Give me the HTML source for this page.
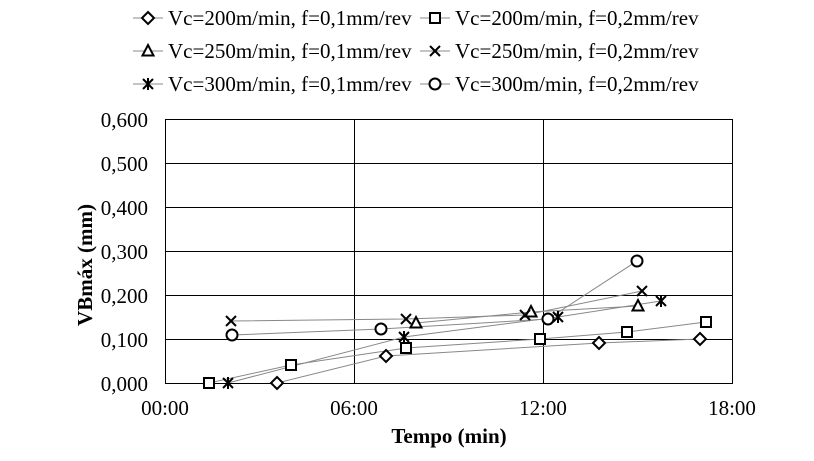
<!DOCTYPE html>
<html><head><meta charset="utf-8"><style>body{margin:0;background:#fff}svg text{font-family:"Liberation Serif",serif;fill:#000}</style></head><body>
<svg width="814" height="456" viewBox="0 0 814 456" xmlns="http://www.w3.org/2000/svg">
<g stroke="#000" stroke-width="1">
<rect x="165.5" y="119.5" width="567" height="264" fill="none"/>
<line x1="165" y1="163.5" x2="732" y2="163.5"/><line x1="165" y1="207.5" x2="732" y2="207.5"/>
<line x1="165" y1="251.5" x2="732" y2="251.5"/><line x1="165" y1="295.5" x2="732" y2="295.5"/>
<line x1="165" y1="339.5" x2="732" y2="339.5"/>
<line x1="354.5" y1="119" x2="354.5" y2="383"/><line x1="543.5" y1="119" x2="543.5" y2="383"/>
</g>
<g font-size="21" text-anchor="end">
<text x="148" y="127">0,600</text><text x="148" y="171">0,500</text><text x="148" y="215">0,400</text>
<text x="148" y="259">0,300</text><text x="148" y="303">0,200</text><text x="148" y="347">0,100</text><text x="148" y="391">0,000</text>
</g>
<g font-size="21" text-anchor="middle">
<text x="165" y="415">00:00</text><text x="354" y="415">06:00</text><text x="543" y="415">12:00</text><text x="732" y="415">18:00</text>
</g>
<text x="449" y="443" font-size="21" font-weight="bold" text-anchor="middle">Tempo (min)</text>
<text transform="translate(92,265) rotate(-90)" font-size="21" font-weight="bold" text-anchor="middle">VBmáx (mm)</text>
<g fill="none" stroke="#888" stroke-width="1">
<polyline points="277,383 386,356 599,343 700,339"/>
<polyline points="209,383 291,365 406,348 540,339 627,332 706,322"/>
<polyline points="416,323 531,312 638,306"/>
<polyline points="231,321 406,319 525,315 642,291"/>
<polyline points="228,383 404,337 558,317 661,301"/>
<polyline points="232,335 381,329 548,319 637,261"/>
</g>
<defs>
<g id="d"><path d="M0,-6 L6,0 L0,6 L-6,0Z" fill="#fff" stroke="#000" stroke-width="2"/></g>
<g id="s"><rect x="-5" y="-5" width="10" height="10" fill="#fff" stroke="#000" stroke-width="2"/></g>
<g id="t"><path d="M0,-6 L5.5,4.5 L-5.5,4.5Z" fill="#fff" stroke="#000" stroke-width="2"/></g>
<g id="x"><path d="M-5,-5 L5,5 M-5,5 L5,-5" stroke="#000" stroke-width="2"/></g>
<g id="a"><path d="M-5,-5 L5,5 M-5,5 L5,-5 M0,-6 L0,6" stroke="#000" stroke-width="2"/></g>
<g id="c"><circle r="5.5" fill="#fff" stroke="#000" stroke-width="2"/></g>
</defs>
<use href="#d" x="277" y="383"/><use href="#d" x="386" y="356"/><use href="#d" x="599" y="343"/><use href="#d" x="700" y="339"/>
<use href="#s" x="209" y="383"/><use href="#s" x="291" y="365"/><use href="#s" x="406" y="348"/><use href="#s" x="540" y="339"/><use href="#s" x="627" y="332"/><use href="#s" x="706" y="322"/>
<use href="#t" x="416" y="323"/><use href="#t" x="531" y="312"/><use href="#t" x="638" y="306"/>
<use href="#x" x="231" y="321"/><use href="#x" x="406" y="319"/><use href="#x" x="525" y="315"/><use href="#x" x="642" y="291"/>
<use href="#a" x="228" y="383"/><use href="#a" x="404" y="337"/><use href="#a" x="558" y="317"/><use href="#a" x="661" y="301"/>
<use href="#c" x="232" y="335"/><use href="#c" x="381" y="329"/><use href="#c" x="548" y="319"/><use href="#c" x="637" y="261"/>
<g stroke="#888" stroke-width="1">
<line x1="133" y1="18" x2="163" y2="18"/><line x1="420" y1="18" x2="450" y2="18"/>
<line x1="133" y1="51" x2="163" y2="51"/><line x1="420" y1="51" x2="450" y2="51"/>
<line x1="133" y1="84" x2="163" y2="84"/><line x1="420" y1="84" x2="450" y2="84"/>
</g>
<use href="#d" x="148" y="18"/><use href="#s" x="435" y="18"/>
<use href="#t" x="148" y="51"/><use href="#x" x="435" y="51"/>
<use href="#a" x="148" y="84"/><use href="#c" x="435" y="84"/>
<g font-size="21">
<text x="168" y="25">Vc=200m/min, f=0,1mm/rev</text><text x="455" y="25">Vc=200m/min, f=0,2mm/rev</text>
<text x="168" y="58">Vc=250m/min, f=0,1mm/rev</text><text x="455" y="58">Vc=250m/min, f=0,2mm/rev</text>
<text x="168" y="91">Vc=300m/min, f=0,1mm/rev</text><text x="455" y="91">Vc=300m/min, f=0,2mm/rev</text>
</g>
</svg>
</body></html>
